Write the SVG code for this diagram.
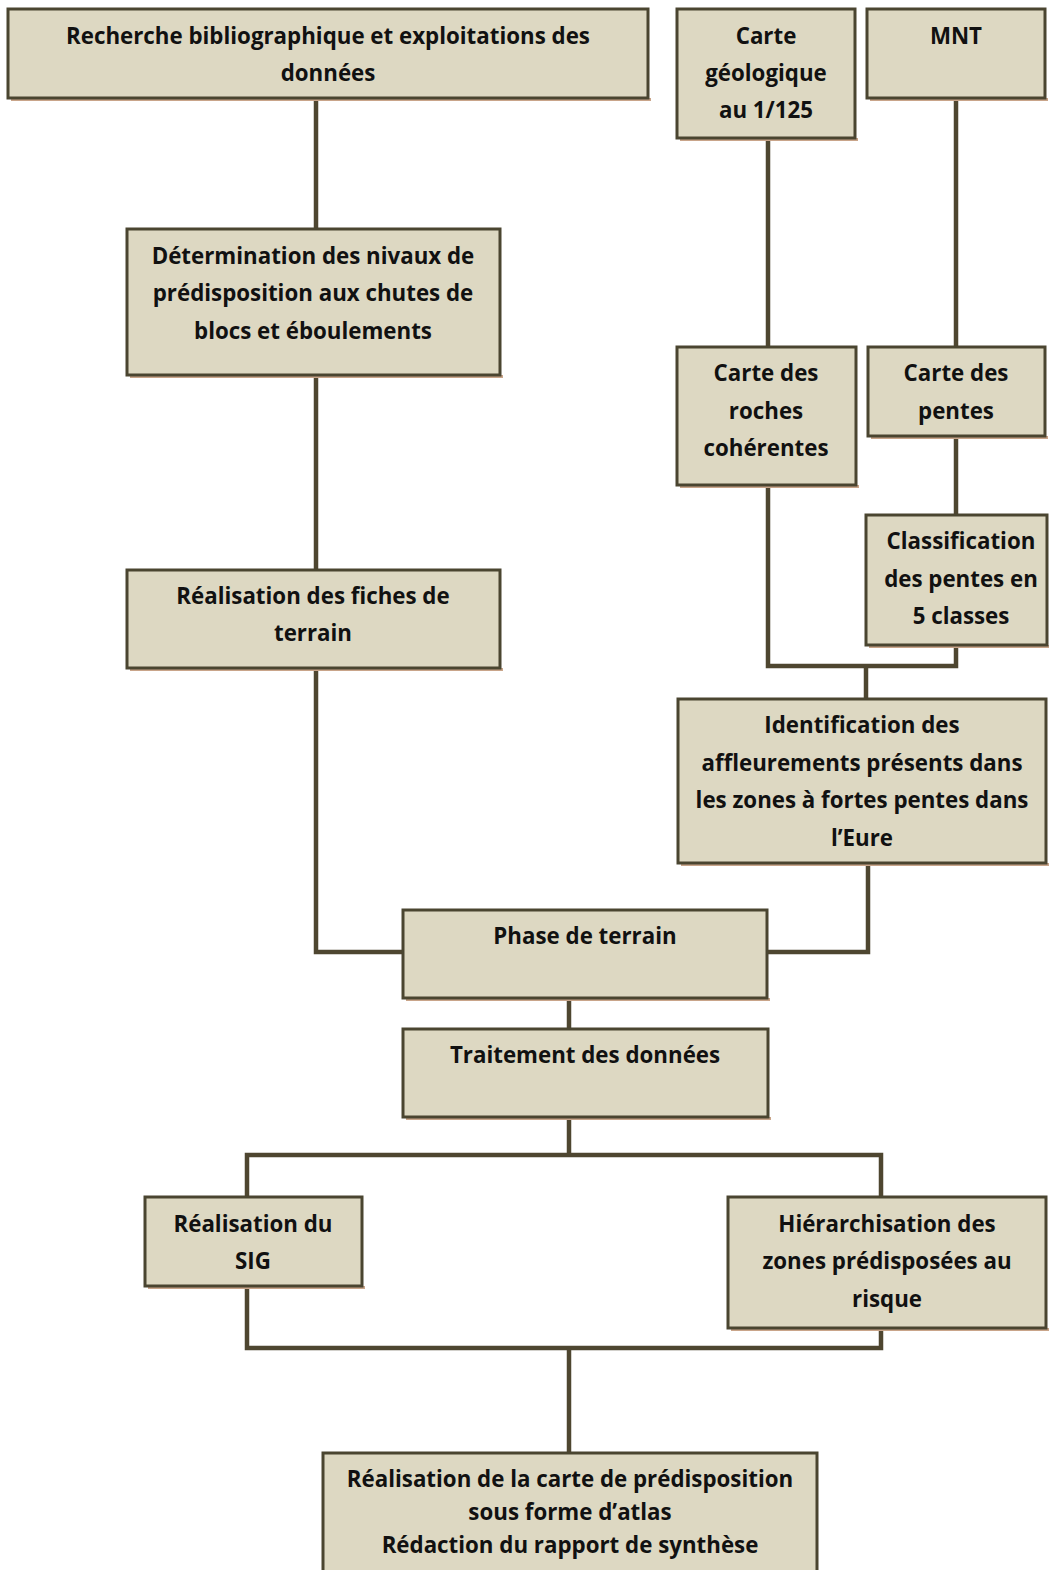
<svg xmlns="http://www.w3.org/2000/svg" width="1049" height="1570" viewBox="0 0 1049 1570">
<defs>
<style>
.box{fill:#ddd8c2;stroke:#4a4530;stroke-width:3}
.sh{fill:#c9a58a}
.t{font-family:"Open Sans","Liberation Sans",sans-serif;font-weight:bold;font-size:22.3px;fill:#111;text-anchor:middle}
.c{fill:none;stroke:#4e4630;stroke-width:4.5;stroke-linejoin:miter}
</style>
</defs>
<rect width="1049" height="1570" fill="#fff"/>
<g id="connectors">
<path class="c" d="M316 98V229"/>
<path class="c" d="M316 375V570"/>
<path class="c" d="M316 668V952H403"/>
<path class="c" d="M768 138V347"/>
<path class="c" d="M956 98V347"/>
<path class="c" d="M956 436V515"/>
<path class="c" d="M768 485V666H956V645"/>
<path class="c" d="M866 666V699"/>
<path class="c" d="M868 863V952H767"/>
<path class="c" d="M569 998V1029"/>
<path class="c" d="M569 1117V1155"/>
<path class="c" d="M247 1197V1155H881V1197"/>
<path class="c" d="M247 1286V1348H881V1328"/>
<path class="c" d="M569 1348V1453"/>
</g>
<g id="n1"><rect class="sh" x="11" y="98" width="640" height="3"/><rect class="box" x="8" y="9" width="640" height="89"/>
<text class="t" x="328" y="44">Recherche bibliographique et exploitations des</text><text class="t" x="328" y="81">données</text></g>
<g id="n2"><rect class="sh" x="680" y="138" width="178" height="3"/><rect class="box" x="677" y="9" width="178" height="129"/>
<text class="t" x="766" y="44">Carte</text><text class="t" x="766" y="81">géologique</text><text class="t" x="766" y="118">au 1/125</text></g>
<g id="n3"><rect class="sh" x="870" y="98" width="178" height="3"/><rect class="box" x="867" y="9" width="178" height="89"/>
<text class="t" x="956" y="44">MNT</text></g>
<g id="n4"><rect class="sh" x="130" y="375" width="373" height="3"/><rect class="box" x="127" y="229" width="373" height="146"/>
<text class="t" x="313" y="264">Détermination des nivaux de</text><text class="t" x="313" y="301">prédisposition aux chutes de</text><text class="t" x="313" y="339">blocs et éboulements</text></g>
<g id="n5"><rect class="sh" x="680" y="485" width="179" height="3"/><rect class="box" x="677" y="347" width="179" height="138"/>
<text class="t" x="766" y="381">Carte des</text><text class="t" x="766" y="419">roches</text><text class="t" x="766" y="456">cohérentes</text></g>
<g id="n6"><rect class="sh" x="871" y="436" width="177" height="3"/><rect class="box" x="868" y="347" width="177" height="89"/>
<text class="t" x="956" y="381">Carte des</text><text class="t" x="956" y="419">pentes</text></g>
<g id="n7"><rect class="sh" x="869" y="645" width="180" height="3"/><rect class="box" x="866" y="515" width="181" height="130"/>
<text class="t" x="961" y="549">Classification</text><text class="t" x="961" y="587">des pentes en</text><text class="t" x="961" y="624">5 classes</text></g>
<g id="n8"><rect class="sh" x="130" y="668" width="373" height="3"/><rect class="box" x="127" y="570" width="373" height="98"/>
<text class="t" x="313" y="604">Réalisation des fiches de</text><text class="t" x="313" y="641">terrain</text></g>
<g id="n9"><rect class="sh" x="681" y="863" width="368" height="3"/><rect class="box" x="678" y="699" width="368" height="164"/>
<text class="t" x="862" y="733">Identification des</text><text class="t" x="862" y="771">affleurements présents dans</text><text class="t" x="862" y="808">les zones à fortes pentes dans</text><text class="t" x="862" y="846">l’Eure</text></g>
<g id="n10"><rect class="sh" x="406" y="998" width="364" height="3"/><rect class="box" x="403" y="910" width="364" height="88"/>
<text class="t" x="585" y="944">Phase de terrain</text></g>
<g id="n11"><rect class="sh" x="406" y="1117" width="365" height="3"/><rect class="box" x="403" y="1029" width="365" height="88"/>
<text class="t" x="585" y="1063">Traitement des données</text></g>
<g id="n12"><rect class="sh" x="148" y="1286" width="217" height="3"/><rect class="box" x="145" y="1197" width="217" height="89"/>
<text class="t" x="253" y="1232">Réalisation du</text><text class="t" x="253" y="1269">SIG</text></g>
<g id="n13"><rect class="sh" x="731" y="1328" width="318" height="3"/><rect class="box" x="728" y="1197" width="318" height="131"/>
<text class="t" x="887" y="1232">Hiérarchisation des</text><text class="t" x="887" y="1269">zones prédisposées au</text><text class="t" x="887" y="1307">risque</text></g>
<g id="n14"><rect class="box" x="323" y="1453" width="494" height="130"/>
<text class="t" x="570" y="1487">Réalisation de la carte de prédisposition</text><text class="t" x="570" y="1520">sous forme d’atlas</text><text class="t" x="570" y="1553">Rédaction du rapport de synthèse</text></g>
</svg>
